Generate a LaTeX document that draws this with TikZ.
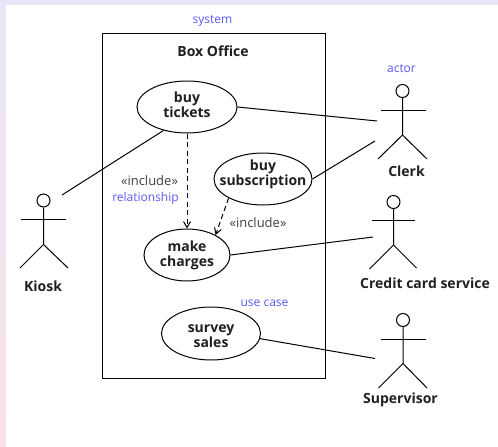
\documentclass[tikz,border=0pt]{standalone}
\usepackage{fontspec}
\setmainfont{Open Sans}
\usetikzlibrary{shapes.geometric,arrows.meta}
\definecolor{notecolor}{HTML}{5A5AF5}
\definecolor{stereocolor}{HTML}{404040}
\definecolor{namecolor}{HTML}{202020}
\definecolor{stripetop}{HTML}{E8E6F6}
\definecolor{stripebottom}{HTML}{FAE2E8}
\tikzset{
  line/.style={line width=1pt,black},
  usecase/.style={draw,line width=1pt,ellipse,inner sep=-14pt,align=center,text=namecolor,font=\fontsize{14}{15}\selectfont\bfseries},
  head/.style={draw,line width=1pt,circle,inner sep=0pt,minimum size=13pt},
  actorname/.style={inner sep=0pt,text=namecolor,font=\fontsize{14}{15}\selectfont\bfseries},
  note/.style={inner sep=0pt,text=notecolor,font=\fontsize{12}{12}\selectfont},
  stereo/.style={inner sep=0pt,text=stereocolor,font=\fontsize{13}{12}\selectfont},
  dep/.style={line width=1pt,dash pattern=on 5pt off 3.5pt,-{Straight Barb[length=6pt,width=7pt]}}
}
\begin{document}
\begin{tikzpicture}[x=1pt,y=-1pt]

\shade[top color=stripetop,bottom color=stripebottom] (0,0) rectangle (498,447);
\fill[white] (6,5) rectangle (498,447);

\draw[line] (102,33.5) rectangle (325.5,378.5);
\node[actorname] (boxoffice) at (213,51) {Box Office};
\node[note] (system) at (212.5,21) {system};

\node[usecase,minimum width=100pt,minimum height=52pt] (tickets) at (187,107) {buy\\tickets\rule[-4pt]{0pt}{0pt}};
\node[usecase,minimum width=98pt,minimum height=52pt] (subscription) at (263,179) {buy\\subscription\rule[-13pt]{0pt}{0pt}};
\node[usecase,minimum width=86pt,minimum height=52pt] (charges) at (187,255) {make\\charges};
\node[usecase,minimum width=99pt,minimum height=53pt] (survey) at (211,333.5) {\rule{0pt}{13.5pt}survey\\sales};

\node[head] (clerk) at (402.5,91) {};
\draw[line] (clerk.south) -- (402.5,135) -- (378,159);
\draw[line] (402.5,135) -- (427,159);
\draw[line] (381,110) -- (425.5,110);
\node[actorname] (clerkname) at (406.5,171) {Clerk};

\node[head] (credit) at (393.5,202) {};
\draw[line] (credit.south) -- (393.5,245) -- (369.5,269);
\draw[line] (393.5,245) -- (416.5,268);
\draw[line] (372,220) -- (415,220);
\node[actorname] (creditname) at (425,283) {Credit card service};

\node[head] (supervisor) at (403,320) {};
\draw[line] (supervisor.south) -- (403,363.5) -- (378.5,388);
\draw[line] (403,363.5) -- (427,388);
\draw[line] (381,339) -- (425.5,339);
\node[actorname] (supervisorname) at (400.5,400) {Supervisor};

\node[head] (kiosk) at (43.5,200.5) {};
\draw[line] (kiosk.south) -- (43.5,244.5) -- (20,268);
\draw[line] (43.5,244.5) -- (68,268);
\draw[line] (21,219) -- (66,219);
\node[actorname] (kioskname) at (43,286) {Kiosk};

\coordinate (kioskend) at (62,195);
\coordinate (clerkendA) at (377,121);
\coordinate (clerkendB) at (375,141);
\coordinate (creditend) at (373,237);
\coordinate (supervisorend) at (375,358.5);

\draw[line] (kioskend) -- (tickets.225);
\draw[line] (tickets.east) -- (clerkendA);
\draw[line] (subscription.east) -- (clerkendB);
\draw[line] (charges.east) -- (creditend);
\draw[line] (survey.-6) -- (supervisorend);

\draw[dep] (tickets.south) -- (charges.north);
\draw[dep] (subscription.209) -- (charges.35);

\node[stereo] (includeA) at (149.5,181) {«include»};
\node[note] (relationship) at (145.5,198.5) {relationship};
\node[stereo] (includeB) at (258,223) {«include»};
\node[note] (usecasenote) at (264.5,303.5) {use case};
\node[note] (actornote) at (401.5,68.5) {actor};

\end{tikzpicture}
\end{document}
